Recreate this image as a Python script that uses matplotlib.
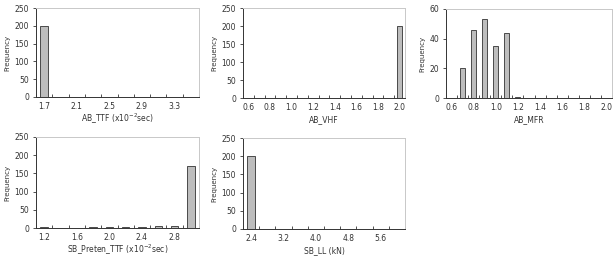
import numpy as np
import matplotlib.pyplot as plt

# AB_TTF
ttf_bins = ["1.7", "1.9", "2.1", "2.3", "2.5", "2.7", "2.9", "3.1", "3.3", "3.5"]
ttf_freq = [200, 0, 0, 0, 0, 0, 0, 0, 0, 0]

# AB_VHF / AB_MFR share the same bins
vhf_bins = ["0.6", "0.7", "0.8", "0.9", "1.0", "1.1", "1.2", "1.3", "1.4",
            "1.5", "1.6", "1.7", "1.8", "1.9", "2.0"]
vhf_freq = [0, 0, 0, 0, 0, 0, 0, 0, 0, 0, 0, 0, 0, 0, 200]
mfr_freq = [0, 20, 46, 53, 35, 44, 1, 0, 0, 0, 0, 0, 0, 0, 0]

# SB_Preten_TTF
pre_bins = ["1.2", "1.4", "1.6", "1.8", "2.0", "2.2", "2.4", "2.6", "2.8", "3.0"]
pre_freq = [2, 1, 1, 4, 3, 3, 4, 6, 5, 170]

# SB_LL
ll_bins = ["2.4", "2.8", "3.2", "3.6", "4.0", "4.4", "4.8", "5.2", "5.6", "6.0"]
ll_freq = [200, 0, 0, 0, 0, 0, 0, 0, 0, 0]

W, H = 613, 260
TXT = "#333333"
FS = 5.5

fig = plt.figure(figsize=(W / 100, H / 100), dpi=100)


def panel(box, bins, freq, xlabel, ymax, ystep):
    l, t, r, b = box
    ax = fig.add_axes([l / W, 1 - b / H, (r - l) / W, (b - t) / H])
    x = np.arange(len(bins))
    ax.bar(x, freq, width=0.45, color="#bdbdbd", edgecolor="#333333", linewidth=0.6)
    ax.set_xlim(-0.5, len(bins) - 0.5)
    ax.set_ylim(0, ymax)
    ax.set_yticks(np.arange(0, ymax + 1, ystep))
    ax.set_xticks(x[::2])
    ax.set_xticklabels(bins[::2])
    ax.set_xticks(np.arange(-0.5, len(bins)), minor=True)
    ax.tick_params(axis="x", which="major", length=0, labelsize=FS, colors=TXT, pad=3.5)
    ax.tick_params(axis="x", which="minor", direction="in", length=2, width=0.6, color="#333333")
    ax.tick_params(axis="y", length=2, width=0.6, labelsize=FS, colors=TXT, pad=3)
    ax.tick_params(axis="y", color="#333333")
    for s in ["left", "bottom"]:
        ax.spines[s].set_color("#333333")
        ax.spines[s].set_linewidth(0.7)
    for s in ["top", "right"]:
        ax.spines[s].set_color("#c8c8c8")
        ax.spines[s].set_linewidth(0.7)
    ax.set_xlabel(xlabel, fontsize=FS, color=TXT, va="center")
    ax.xaxis.set_label_coords(0.5, -22 / (b - t))
    ax.set_ylabel("Frequency", fontsize=FS - 0.5, color=TXT, labelpad=3)
    return ax


panel((36, 8, 199, 97), ttf_bins, ttf_freq, "AB_TTF (x10$^{-2}$sec)", 250, 50)
panel((243, 8, 405, 98), vhf_bins, vhf_freq, "AB_VHF", 250, 50)
panel((446, 9, 612, 98), vhf_bins, mfr_freq, "AB_MFR", 60, 20)
panel((36, 137, 199, 228), pre_bins, pre_freq, "SB_Preten_TTF (x10$^{-2}$sec)", 250, 50)
panel((243, 138, 405, 229), ll_bins, ll_freq, "SB_LL (kN)", 250, 50)

fig.savefig("out.png", dpi=100)
